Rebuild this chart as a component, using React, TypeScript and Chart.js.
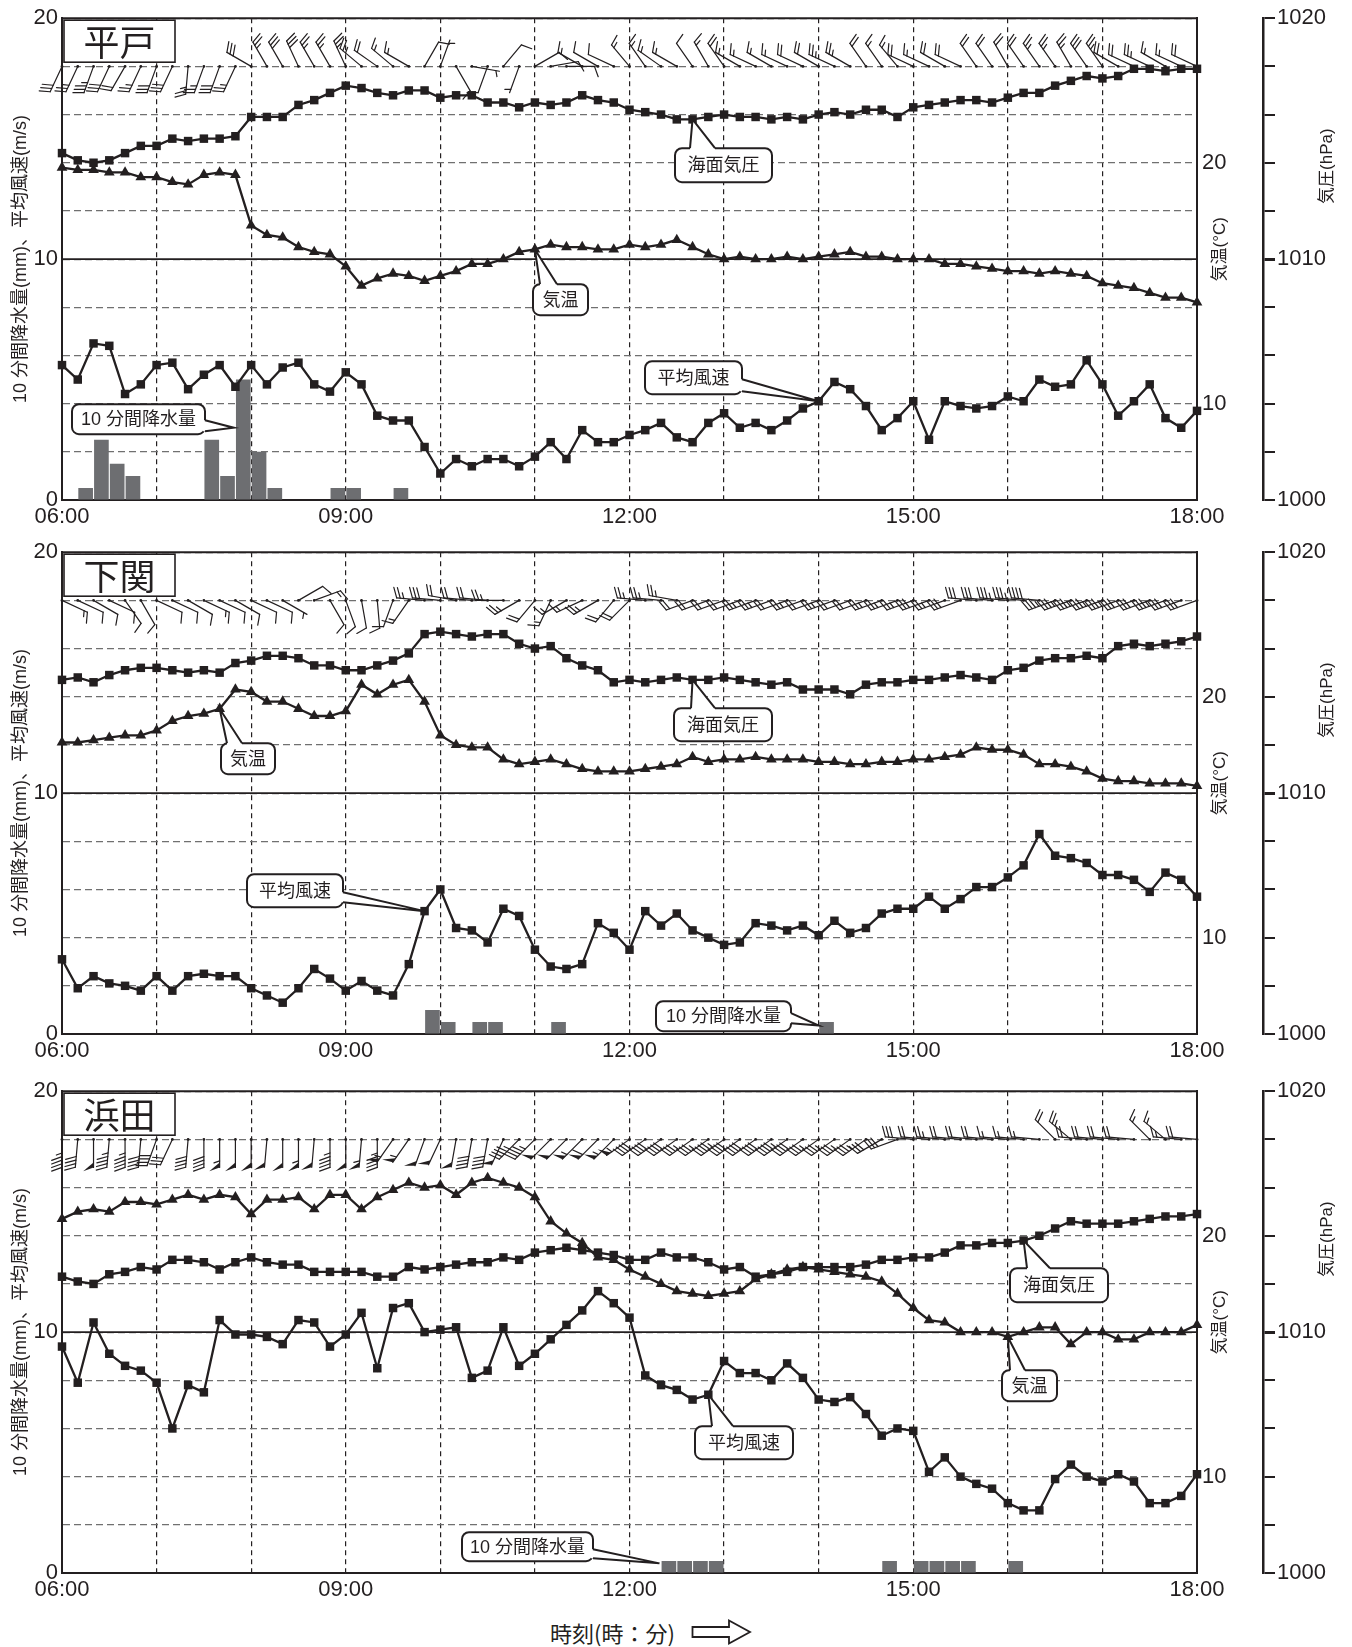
import React, { useEffect, useRef } from "react";
import { Chart, registerables } from "chart.js";

Chart.register(...registerables);

// ---------------- data ----------------
const timeLabels = ["06:00", "09:00", "12:00", "15:00", "18:00"];
const tempTickValues = [10, 20];
const leftAxisTitle = "10 分間降水量(mm)、平均風速(m/s)";
const tempAxisTitle = "気温(°C)";
const pressAxisTitle = "気圧(hPa)";

// 平戸
const hiradoPressure = [
  1014.4, 1014.1, 1014.0, 1014.1, 1014.4, 1014.7, 1014.7, 1015.0, 1014.9, 1015.0,
  1015.0, 1015.1, 1015.9, 1015.9, 1015.9, 1016.4, 1016.6, 1016.9, 1017.2, 1017.1,
  1016.9, 1016.8, 1017.0, 1017.0, 1016.7, 1016.8, 1016.8, 1016.5, 1016.5, 1016.3,
  1016.5, 1016.4, 1016.5, 1016.8, 1016.6, 1016.5, 1016.2, 1016.1, 1016.0, 1015.8,
  1015.8, 1015.9, 1016.0, 1015.9, 1015.9, 1015.8, 1015.9, 1015.8, 1016.0, 1016.1,
  1016.0, 1016.2, 1016.2, 1015.9, 1016.3, 1016.4, 1016.5, 1016.6, 1016.6, 1016.5,
  1016.7, 1016.9, 1016.9, 1017.2, 1017.4, 1017.6, 1017.5, 1017.6, 1017.9, 1017.9,
  1017.8, 1017.9, 1017.9,
];
const hiradoTemp = [
  19.8, 19.7, 19.7, 19.6, 19.6, 19.4, 19.4, 19.2, 19.1, 19.5,
  19.6, 19.5, 17.4, 17.0, 16.9, 16.5, 16.3, 16.2, 15.7, 14.9,
  15.2, 15.4, 15.3, 15.1, 15.3, 15.5, 15.8, 15.8, 16.0, 16.3,
  16.4, 16.6, 16.5, 16.5, 16.4, 16.4, 16.6, 16.5, 16.6, 16.8,
  16.5, 16.2, 16.0, 16.1, 16.0, 16.0, 16.1, 16.0, 16.1, 16.2,
  16.3, 16.1, 16.1, 16.0, 16.0, 16.0, 15.8, 15.8, 15.7, 15.6,
  15.5, 15.5, 15.4, 15.5, 15.4, 15.3, 15.0, 14.9, 14.8, 14.6,
  14.4, 14.4, 14.2,
];
const hiradoWind = [
  5.6, 5.0, 6.5, 6.4, 4.4, 4.8, 5.6, 5.7, 4.6, 5.2,
  5.6, 4.7, 5.6, 4.8, 5.5, 5.7, 4.8, 4.5, 5.3, 4.8,
  3.5, 3.3, 3.3, 2.2, 1.1, 1.7, 1.4, 1.7, 1.7, 1.4,
  1.8, 2.4, 1.7, 2.9, 2.4, 2.4, 2.7, 2.9, 3.2, 2.6,
  2.4, 3.2, 3.6, 3.0, 3.2, 2.9, 3.3, 3.8, 4.1, 4.9,
  4.6, 3.9, 2.9, 3.4, 4.1, 2.5, 4.1, 3.9, 3.8, 3.9,
  4.3, 4.1, 5.0, 4.7, 4.8, 5.8, 4.8, 3.5, 4.1, 4.8,
  3.4, 3.0, 3.7,
];
const hiradoDir = [
  205, 205, 200, 205, 210, 205, 200, 205, 185, 200,
  200, 205, 300, 330, 330, 335, 330, 330, 335, 310,
  305, 310, 300, 30, 20, 150, 100, 200, 40, 200,
  60, 80, 90, 300, 300, 295, 320, 325, 305, 300,
  325, 330, 325, 300, 295, 300, 295, 295, 300, 295,
  300, 325, 325, 320, 295, 295, 300, 295, 325, 325,
  330, 325, 325, 325, 330, 325, 325, 300, 295, 295,
  300, 295, 295,
];
const hiradoRainEnd = [2, 3, 4, 5, 10, 11, 12, 13, 14, 18, 19, 22];
const hiradoRainMm = [0.5, 2.5, 1.5, 1.0, 2.5, 1.0, 5.0, 2.0, 0.5, 0.5, 0.5, 0.5];

// 下関
const shimoPressure = [
  1014.7, 1014.8, 1014.6, 1014.9, 1015.1, 1015.2, 1015.2, 1015.1, 1015.0, 1015.1,
  1015.0, 1015.4, 1015.5, 1015.7, 1015.7, 1015.6, 1015.3, 1015.3, 1015.1, 1015.1,
  1015.3, 1015.5, 1015.8, 1016.6, 1016.7, 1016.6, 1016.5, 1016.6, 1016.6, 1016.2,
  1016.0, 1016.1, 1015.6, 1015.3, 1015.1, 1014.6, 1014.7, 1014.6, 1014.7, 1014.8,
  1014.7, 1014.7, 1014.8, 1014.7, 1014.6, 1014.5, 1014.6, 1014.3, 1014.3, 1014.3,
  1014.1, 1014.5, 1014.6, 1014.6, 1014.7, 1014.7, 1014.8, 1014.9, 1014.8, 1014.7,
  1015.1, 1015.2, 1015.5, 1015.6, 1015.6, 1015.7, 1015.6, 1016.1, 1016.2, 1016.1,
  1016.2, 1016.3, 1016.5,
];
const shimoTemp = [
  18.1, 18.1, 18.2, 18.3, 18.4, 18.4, 18.6, 19.0, 19.2, 19.3,
  19.5, 20.3, 20.2, 19.8, 19.8, 19.5, 19.2, 19.2, 19.4, 20.5,
  20.1, 20.5, 20.7, 19.8, 18.4, 18.0, 17.9, 17.9, 17.4, 17.2,
  17.3, 17.4, 17.2, 17.0, 16.9, 16.9, 16.9, 17.0, 17.1, 17.2,
  17.5, 17.3, 17.4, 17.4, 17.5, 17.4, 17.4, 17.4, 17.3, 17.3,
  17.2, 17.2, 17.3, 17.3, 17.4, 17.4, 17.5, 17.6, 17.9, 17.8,
  17.8, 17.6, 17.2, 17.2, 17.1, 16.9, 16.6, 16.5, 16.5, 16.4,
  16.4, 16.4, 16.3,
];
const shimoWind = [
  3.1, 1.9, 2.4, 2.1, 2.0, 1.8, 2.4, 1.8, 2.4, 2.5,
  2.4, 2.4, 1.9, 1.6, 1.3, 1.9, 2.7, 2.3, 1.8, 2.2,
  1.8, 1.6, 2.9, 5.1, 6.0, 4.4, 4.3, 3.8, 5.2, 4.9,
  3.5, 2.8, 2.7, 2.9, 4.6, 4.2, 3.5, 5.1, 4.5, 5.0,
  4.3, 4.0, 3.7, 3.8, 4.6, 4.5, 4.3, 4.5, 4.1, 4.7,
  4.2, 4.4, 5.0, 5.2, 5.2, 5.7, 5.2, 5.6, 6.1, 6.1,
  6.5, 7.0, 8.3, 7.4, 7.3, 7.1, 6.6, 6.6, 6.4, 5.9,
  6.7, 6.4, 5.7,
];
const shimoDir = [
  115, 115, 120, 115, 145, 150, 115, 115, 120, 115,
  115, 120, 115, 115, 120, 60, 70, 150, 160, 170,
  175, 200, 215, 275, 275, 280, 275, 275, 270, 240,
  220, 205, 240, 245, 240, 220, 225, 275, 275, 280,
  250, 250, 250, 250, 250, 250, 250, 250, 250, 250,
  250, 250, 250, 250, 250, 250, 250, 250, 275, 275,
  275, 275, 275, 250, 250, 250, 250, 250, 250, 250,
  250, 250, 250,
];
const shimoRainEnd = [24, 25, 27, 28, 32, 49];
const shimoRainMm = [1.0, 0.5, 0.5, 0.5, 0.5, 0.5];

// 浜田
const hamadaPressure = [
  1012.3, 1012.1, 1012.0, 1012.4, 1012.5, 1012.7, 1012.6, 1013.0, 1013.0, 1012.9,
  1012.6, 1012.9, 1013.1, 1012.9, 1012.8, 1012.8, 1012.5, 1012.5, 1012.5, 1012.5,
  1012.3, 1012.3, 1012.7, 1012.6, 1012.7, 1012.8, 1012.9, 1012.9, 1013.1, 1013.0,
  1013.3, 1013.4, 1013.5, 1013.4, 1013.3, 1013.2, 1013.0, 1013.0, 1013.3, 1013.1,
  1013.1, 1012.9, 1012.6, 1012.7, 1012.3, 1012.4, 1012.5, 1012.7, 1012.7, 1012.7,
  1012.7, 1012.8, 1013.0, 1013.0, 1013.1, 1013.1, 1013.3, 1013.6, 1013.6, 1013.7,
  1013.7, 1013.8, 1014.0, 1014.3, 1014.6, 1014.5, 1014.5, 1014.5, 1014.6, 1014.7,
  1014.8, 1014.8, 1014.9,
];
const hamadaTemp = [
  20.7, 21.0, 21.1, 21.0, 21.4, 21.4, 21.3, 21.5, 21.7, 21.5,
  21.7, 21.6, 20.9, 21.5, 21.5, 21.6, 21.1, 21.7, 21.7, 21.1,
  21.6, 21.9, 22.2, 22.0, 22.1, 21.7, 22.2, 22.4, 22.2, 22.0,
  21.6, 20.6, 20.1, 19.7, 19.1, 19.0, 18.6, 18.3, 18.0, 17.7,
  17.6, 17.5, 17.6, 17.7, 18.2, 18.4, 18.6, 18.7, 18.6, 18.5,
  18.4, 18.3, 18.1, 17.6, 17.0, 16.5, 16.4, 16.0, 16.0, 16.0,
  15.8, 16.0, 16.2, 16.2, 15.5, 16.0, 16.0, 15.7, 15.7, 16.0,
  16.0, 16.0, 16.3,
];
const hamadaWind = [
  9.4, 7.9, 10.4, 9.1, 8.6, 8.4, 7.9, 6.0, 7.8, 7.5,
  10.5, 9.9, 9.9, 9.8, 9.5, 10.5, 10.4, 9.4, 9.9, 10.8,
  8.5, 11.0, 11.2, 10.0, 10.1, 10.2, 8.1, 8.4, 10.2, 8.6,
  9.1, 9.7, 10.3, 10.9, 11.7, 11.2, 10.6, 8.2, 7.8, 7.6,
  7.2, 7.4, 8.8, 8.3, 8.3, 8.0, 8.7, 8.1, 7.2, 7.1,
  7.3, 6.6, 5.7, 6.0, 5.9, 4.2, 4.8, 4.0, 3.7, 3.5,
  2.9, 2.6, 2.6, 3.9, 4.5, 4.0, 3.8, 4.1, 3.8, 2.9,
  2.9, 3.2, 4.1,
];
const hamadaDir = [
  180, 185, 180, 185, 180, 185, 200, 205, 185, 180,
  180, 180, 180, 185, 180, 180, 185, 180, 180, 185,
  180, 215, 215, 200, 205, 190, 190, 190, 205, 225,
  225, 225, 225, 225, 225, 225, 235, 235, 235, 235,
  235, 235, 235, 235, 235, 235, 235, 235, 235, 235,
  235, 235, 240, 250, 275, 275, 275, 275, 275, 275,
  275, 275, 275, 315, 310, 275, 275, 275, 275, 315,
  310, 275, 275,
];
const hamadaRainEnd = [39, 40, 41, 42, 53, 55, 56, 57, 58, 61];
const hamadaRainMm = [0.5, 0.5, 0.5, 0.5, 0.5, 0.5, 0.5, 0.5, 0.5, 0.5];

// ---------------- styling / layout ----------------
const INK = "#231f20";
const BAR = "#6d6e71";
const FONT_LATIN = "'Liberation Sans', Arial, 'Noto Sans CJK JP', sans-serif";
const FONT_JP = "'Noto Sans CJK JP', 'Liberation Sans', sans-serif";
const CALLOUT_FONT = "18px 'Liberation Sans', 'Noto Sans CJK JP', sans-serif";

type Axis = "y" | "yt" | "yp";
type CalloutDef = {
  text: string;
  tx: number;
  ty: number;
  axis: Axis;
  box: [number, number, number, number];
  side: "top" | "right";
  a: number;
  b: number;
};
type PanelDef = {
  name: string;
  pressure: number[];
  temp: number[];
  wind: number[];
  dir: number[];
  rainEnd: number[];
  rainMm: number[];
  top: number;
  callouts: CalloutDef[];
};

const panels: PanelDef[] = [
  {
    name: "平戸",
    pressure: hiradoPressure,
    temp: hiradoTemp,
    wind: hiradoWind,
    dir: hiradoDir,
    rainEnd: hiradoRainEnd,
    rainMm: hiradoRainMm,
    top: 0,
    callouts: [
      { text: "海面気圧", tx: 40, ty: hiradoPressure[40], axis: "yp", box: [613, 130, 97, 34], side: "top", a: 15, b: 40 },
      { text: "気温", tx: 30, ty: hiradoTemp[30], axis: "yt", box: [471, 266, 55, 31], side: "top", a: 7, b: 24 },
      { text: "平均風速", tx: 48, ty: hiradoWind[48], axis: "y", box: [583, 343, 97, 33], side: "right", a: 18, b: 30 },
      { text: "10 分間降水量", tx: 10.9, ty: 3.0, axis: "y", box: [10, 386, 133, 30], side: "right", a: 16, b: 27 },
    ],
  },
  {
    name: "下関",
    pressure: shimoPressure,
    temp: shimoTemp,
    wind: shimoWind,
    dir: shimoDir,
    rainEnd: shimoRainEnd,
    rainMm: shimoRainMm,
    top: 534,
    callouts: [
      { text: "気温", tx: 10, ty: shimoTemp[10], axis: "yt", box: [159, 191, 54, 31], side: "top", a: 6, b: 21 },
      { text: "平均風速", tx: 23, ty: shimoWind[23], axis: "y", box: [185, 322, 96, 33], side: "right", a: 18, b: 28 },
      { text: "海面気圧", tx: 40, ty: shimoPressure[40], axis: "yp", box: [612, 156, 98, 33], side: "top", a: 17, b: 41 },
      { text: "10 分間降水量", tx: 48.0, ty: 0.35, axis: "y", box: [594, 449, 135, 30], side: "right", a: 12, b: 22 },
    ],
  },
  {
    name: "浜田",
    pressure: hamadaPressure,
    temp: hamadaTemp,
    wind: hamadaWind,
    dir: hamadaDir,
    rainEnd: hamadaRainEnd,
    rainMm: hamadaRainMm,
    top: 1073,
    callouts: [
      { text: "海面気圧", tx: 61, ty: hamadaPressure[61], axis: "yp", box: [948, 177, 98, 34], side: "top", a: 17, b: 40 },
      { text: "気温", tx: 60, ty: hamadaTemp[60], axis: "yt", box: [940, 279, 55, 31], side: "top", a: 8, b: 23 },
      { text: "平均風速", tx: 41, ty: hamadaWind[41], axis: "y", box: [633, 335, 98, 33], side: "top", a: 17, b: 38 },
      { text: "10 分間降水量", tx: 37.9, ty: 0.4, axis: "y", box: [400, 441, 131, 29], side: "right", a: 17, b: 26 },
    ],
  },
];

// ---------------- drawing helpers ----------------
function drawBarb(ctx: CanvasRenderingContext2D, x: number, y: number, dirDeg: number, speed: number) {
  const d = (dirDeg * Math.PI) / 180;
  const ux = Math.sin(d);
  const uy = -Math.cos(d);
  const px = Math.cos(d);
  const py = Math.sin(d);
  const lean = (20 * Math.PI) / 180;
  let fx = px * Math.cos(lean) + ux * Math.sin(lean);
  let fy = py * Math.cos(lean) + uy * Math.sin(lean);
  const fl = Math.hypot(fx, fy);
  fx /= fl;
  fy /= fl;
  const L = 28;
  const tx = x + ux * L;
  const ty = y + uy * L;
  ctx.beginPath();
  ctx.arc(x, y, 1.4, 0, Math.PI * 2);
  ctx.fill();
  let s = Math.round(speed);
  if (s <= 0) return;
  ctx.beginPath();
  ctx.moveTo(x, y);
  ctx.lineTo(tx, ty);
  ctx.stroke();
  const nP = Math.floor(s / 10);
  s -= nP * 10;
  const nL = Math.floor(s / 2);
  const nS = s - nL * 2;
  let pos = 0;
  for (let k = 0; k < nP; k++) {
    const ax = tx - ux * pos, ay = ty - uy * pos;
    const bx = tx - ux * (pos + 5), by = ty - uy * (pos + 5);
    ctx.beginPath();
    ctx.moveTo(ax, ay);
    ctx.lineTo(ax + fx * 11, ay + fy * 11);
    ctx.lineTo(bx, by);
    ctx.closePath();
    ctx.fill();
    pos += 6.5;
  }
  for (let k = 0; k < nL; k++) {
    const ax = tx - ux * pos, ay = ty - uy * pos;
    ctx.beginPath();
    ctx.moveTo(ax, ay);
    ctx.lineTo(ax + fx * 11, ay + fy * 11);
    ctx.stroke();
    pos += 3.6;
  }
  if (nS > 0) {
    if (pos === 0) pos = 3.6;
    const ax = tx - ux * pos, ay = ty - uy * pos;
    ctx.beginPath();
    ctx.moveTo(ax, ay);
    ctx.lineTo(ax + fx * 6, ay + fy * 6);
    ctx.stroke();
  }
}

function roundRectPath(ctx: CanvasRenderingContext2D, x: number, y: number, w: number, h: number, r: number) {
  ctx.beginPath();
  ctx.moveTo(x + r, y);
  ctx.lineTo(x + w - r, y);
  ctx.arcTo(x + w, y, x + w, y + r, r);
  ctx.lineTo(x + w, y + h - r);
  ctx.arcTo(x + w, y + h, x + w - r, y + h, r);
  ctx.lineTo(x + r, y + h);
  ctx.arcTo(x, y + h, x, y + h - r, r);
  ctx.lineTo(x, y + r);
  ctx.arcTo(x, y, x + r, y, r);
  ctx.closePath();
}

function drawCallout(ctx: CanvasRenderingContext2D, c: CalloutDef, chart: any) {
  const area = chart.chartArea;
  const tx = chart.scales.x.getPixelForValue(c.tx);
  const ty = chart.scales[c.axis].getPixelForValue(c.ty);
  const [rx, ry, bw, bh] = c.box;
  const bx = area.left + rx;
  const by = area.top + ry;
  let p1: [number, number], p2: [number, number], i1: [number, number], i2: [number, number];
  if (c.side === "top") {
    p1 = [bx + c.a, by];
    p2 = [bx + c.b, by];
    i1 = [bx + c.a, by + 2];
    i2 = [bx + c.b, by + 2];
  } else {
    p1 = [bx + bw, by + c.a];
    p2 = [bx + bw, by + c.b];
    i1 = [bx + bw - 2, by + c.a];
    i2 = [bx + bw - 2, by + c.b];
  }
  ctx.save();
  ctx.lineWidth = 2;
  ctx.strokeStyle = INK;
  ctx.fillStyle = "#ffffff";
  roundRectPath(ctx, bx, by, bw, bh, 7);
  ctx.fill();
  ctx.stroke();
  ctx.beginPath();
  ctx.moveTo(i1[0], i1[1]);
  ctx.lineTo(p1[0], p1[1]);
  ctx.lineTo(tx, ty);
  ctx.lineTo(p2[0], p2[1]);
  ctx.lineTo(i2[0], i2[1]);
  ctx.closePath();
  ctx.fill();
  ctx.beginPath();
  ctx.moveTo(p1[0], p1[1]);
  ctx.lineTo(tx, ty);
  ctx.lineTo(p2[0], p2[1]);
  ctx.stroke();
  ctx.fillStyle = INK;
  ctx.font = CALLOUT_FONT;
  ctx.textAlign = "center";
  ctx.textBaseline = "middle";
  ctx.fillText(c.text, bx + bw / 2, by + bh / 2 + 1);
  ctx.restore();
}

function makeDecor(panel: PanelDef) {
  return {
    id: "decor",
    beforeDatasetsDraw(chart: any) {
      const { ctx, chartArea: a, scales } = chart;
      const y10 = scales.y.getPixelForValue(10);
      ctx.save();
      ctx.strokeStyle = INK;
      ctx.lineWidth = 1.6;
      ctx.beginPath();
      ctx.moveTo(a.left, y10);
      ctx.lineTo(a.right, y10);
      ctx.stroke();
      ctx.lineWidth = 2;
      ctx.beginPath();
      ctx.moveTo(a.left - 1, a.top);
      ctx.lineTo(a.right + 1, a.top);
      ctx.stroke();
      ctx.restore();
    },
    afterDatasetsDraw(chart: any) {
      const { ctx, chartArea: a, scales } = chart;
      // wind barbs
      ctx.save();
      ctx.strokeStyle = INK;
      ctx.fillStyle = INK;
      ctx.lineWidth = 1.2;
      ctx.lineCap = "round";
      const by = scales.y.getPixelForValue(18);
      panel.dir.forEach((dv, i) => {
        drawBarb(ctx, scales.x.getPixelForValue(i), by, dv, panel.wind[i]);
      });
      ctx.restore();

      // station name box
      ctx.save();
      ctx.fillStyle = "#ffffff";
      ctx.strokeStyle = INK;
      ctx.lineWidth = 1.6;
      ctx.fillRect(a.left + 2, a.top + 2, 111, 42);
      ctx.strokeRect(a.left + 2, a.top + 2, 111, 42);
      ctx.fillStyle = INK;
      ctx.font = "36px 'Noto Sans CJK JP', sans-serif";
      ctx.textAlign = "center";
      ctx.textBaseline = "middle";
      ctx.fillText(panel.name, a.left + 57.5, a.top + 24);
      ctx.restore();

      // callouts
      panel.callouts.forEach((c) => drawCallout(ctx, c, chart));
    },
    afterDraw(chart: any) {
      const { ctx, chartArea: a } = chart;
      const rot = (text: string, x: number, y: number) => {
        ctx.save();
        ctx.translate(x, y);
        ctx.rotate(-Math.PI / 2);
        ctx.fillStyle = INK;
        ctx.font = "17px 'Liberation Sans', 'Noto Sans CJK JP', sans-serif";
        ctx.textAlign = "center";
        ctx.textBaseline = "middle";
        ctx.fillText(text, 0, 0);
        ctx.restore();
      };
      rot(tempAxisTitle, a.right + 23, a.top + 231);
      rot(pressAxisTitle, a.right + 130, a.top + 148);
    },
  };
}

function makeChart(canvas: HTMLCanvasElement, panel: PanelDef) {
  const rainPts: { x: number; y: number | null }[] = [];
  for (let i = 1; i < panel.pressure.length; i++) {
    const k = panel.rainEnd.indexOf(i);
    rainPts.push({ x: i - 0.5, y: k >= 0 ? panel.rainMm[k] : null });
  }
  const pts = (arr: number[]) => arr.map((v, i) => ({ x: i, y: v }));
  const lineBase = {
    type: "line" as const,
    borderColor: INK,
    backgroundColor: INK,
    borderWidth: 2.3,
    pointBackgroundColor: INK,
    pointBorderColor: INK,
    pointBorderWidth: 0,
    tension: 0,
    clip: false as any,
    order: 1,
  };
  const tickFont = { size: 22, family: FONT_LATIN };
  return new Chart(canvas, {
    type: "line",
    data: {
      datasets: [
        {
          type: "bar",
          label: "10分間降水量",
          data: rainPts as any,
          yAxisID: "y",
          xAxisID: "x",
          backgroundColor: BAR,
          borderWidth: 0,
          barPercentage: 0.93,
          categoryPercentage: 1,
          order: 10,
        } as any,
        { ...lineBase, label: "海面気圧", data: pts(panel.pressure), yAxisID: "yp", pointStyle: "rect", pointRadius: 6 } as any,
        { ...lineBase, label: "気温", data: pts(panel.temp), yAxisID: "yt", pointStyle: "triangle", pointRadius: 6.2 } as any,
        { ...lineBase, label: "平均風速", data: pts(panel.wind), yAxisID: "y", pointStyle: "rect", pointRadius: 6 } as any,
      ],
    },
    options: {
      animation: false,
      responsive: false,
      events: [],
      layout: { padding: { top: 17, left: 0, right: 0, bottom: 0 } },
      plugins: { legend: { display: false }, tooltip: { enabled: false } },
      scales: {
        x: {
          type: "linear",
          min: 0,
          max: 72,
          offset: false,
          afterFit: (s: any) => {
            s.height = 40;
          },
          ticks: {
            stepSize: 6,
            autoSkip: false,
            maxRotation: 0,
            padding: 4,
            font: tickFont,
            color: INK,
            callback: (v: any) => {
              const n = Math.round(Number(v));
              return n % 18 === 0 ? timeLabels[n / 18] : "";
            },
          },
          grid: { color: INK, lineWidth: 1.2, drawTicks: false, offset: false },
          border: { display: true, color: INK, width: 2, dash: [5, 4] },
        },
        y: {
          type: "linear",
          position: "left",
          min: 0,
          max: 20,
          afterFit: (s: any) => {
            s.width = 62;
          },
          ticks: {
            stepSize: 2,
            autoSkip: false,
            padding: 4,
            font: tickFont,
            color: INK,
            callback: (v: any) => (Math.round(Number(v)) % 10 === 0 ? String(v) : ""),
          },
          grid: { color: "#707070", lineWidth: 1.2, drawTicks: false },
          border: { display: true, color: INK, width: 2, dash: [7, 4] },
          title: {
            display: true,
            text: leftAxisTitle,
            color: INK,
            font: { size: 18, family: FONT_LATIN },
            padding: { top: 10, bottom: 0 },
          },
        },
        yt: {
          type: "linear",
          position: "right",
          weight: 0,
          min: 6,
          max: 26,
          afterFit: (s: any) => {
            s.width = 66;
          },
          afterBuildTicks: (s: any) => {
            s.ticks = tempTickValues.map((v) => ({ value: v }));
          },
          ticks: { padding: 5, font: tickFont, color: INK },
          grid: { display: false, drawTicks: false, drawOnChartArea: false },
          border: { display: true, color: INK, width: 2 },
        },
        yp: {
          type: "linear",
          position: "right",
          weight: 1,
          min: 1000,
          max: 1020,
          afterFit: (s: any) => {
            s.width = 89;
          },
          ticks: {
            stepSize: 2,
            autoSkip: false,
            padding: 2,
            font: tickFont,
            color: INK,
            callback: (v: any) => (Math.round(Number(v)) % 10 === 0 ? String(v) : ""),
          },
          grid: {
            drawOnChartArea: false,
            drawTicks: true,
            tickLength: 12,
            color: INK,
            lineWidth: (c: any) => (c.tick && c.tick.value === 1010 ? 3 : 2),
          },
          border: { display: true, color: INK, width: 2.5 },
        },
      } as any,
    },
    plugins: [makeDecor(panel)],
  } as any);
}

function PanelChart({ panel }: { panel: PanelDef }) {
  const ref = useRef<HTMLCanvasElement>(null);
  useEffect(() => {
    if (!ref.current) return;
    const chart = makeChart(ref.current, panel);
    return () => chart.destroy();
  }, [panel]);
  return (
    <canvas
      ref={ref}
      width={1352}
      height={540}
      style={{ position: "absolute", left: 0, top: panel.top, width: 1352, height: 540 }}
    />
  );
}

export default function App() {
  useEffect(() => {
    document.body.style.margin = "0";
  }, []);
  return (
    <div style={{ position: "relative", width: 1352, height: 1647, background: "#ffffff", overflow: "hidden" }}>
      {panels.map((p) => (
        <PanelChart key={p.name} panel={p} />
      ))}
      <div
        style={{
          position: "absolute",
          left: 550,
          top: 1618,
          fontSize: 22,
          lineHeight: "28px",
          fontFamily: FONT_JP,
          color: INK,
          whiteSpace: "nowrap",
        }}
      >
        時刻(時：分)
      </div>
      <svg width={62} height={28} style={{ position: "absolute", left: 691, top: 1618 }}>
        <path d="M1.5 9 H38 V2.5 L59 14 L38 25.5 V19 H1.5 Z" fill="#ffffff" stroke={INK} strokeWidth={1.8} strokeLinejoin="miter" />
      </svg>
    </div>
  );
}
